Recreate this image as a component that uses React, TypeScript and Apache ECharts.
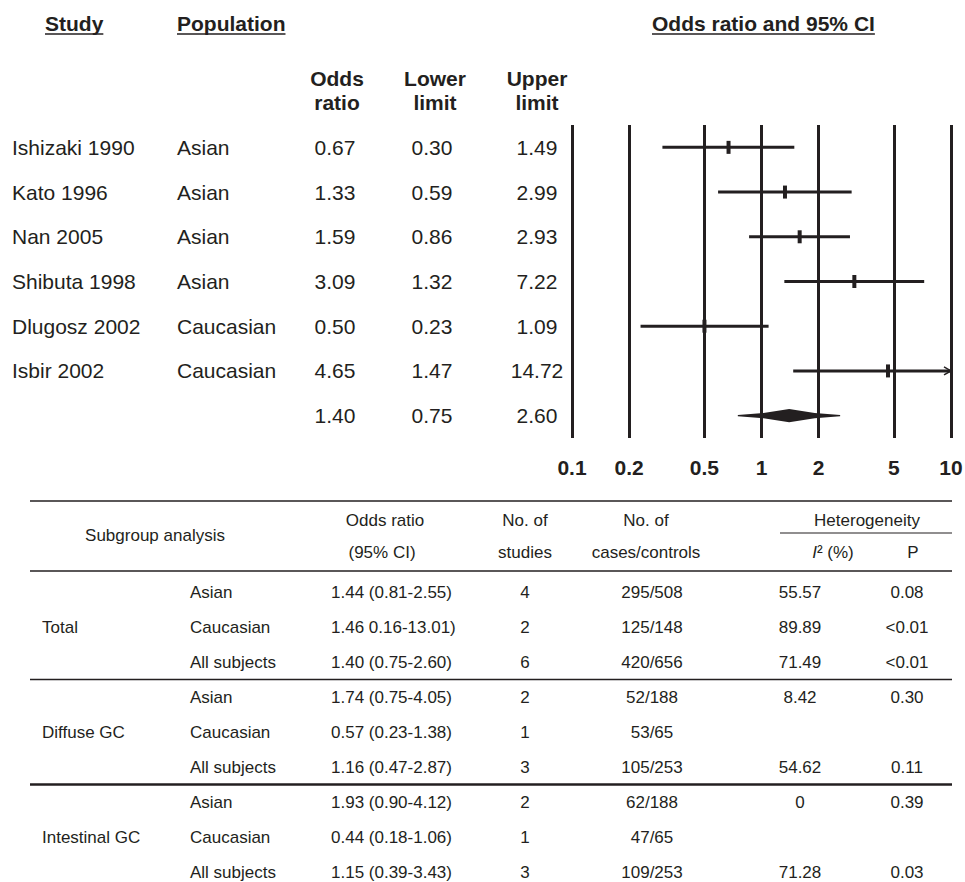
import React, { useEffect, useRef } from "react";
import * as echarts from "echarts";

// ---------- Forest plot data ----------
const studies = ["Ishizaki 1990", "Kato 1996", "Nan 2005", "Shibuta 1998", "Dlugosz 2002", "Isbir 2002", ""];
const populations = ["Asian", "Asian", "Asian", "Asian", "Caucasian", "Caucasian", ""];
const oddsRatios = [0.67, 1.33, 1.59, 3.09, 0.5, 4.65, 1.4];
const lowerLimits = [0.3, 0.59, 0.86, 1.32, 0.23, 1.47, 0.75];
const upperLimits = [1.49, 2.99, 2.93, 7.22, 1.09, 14.72, 2.6];
const pooledIndex = 6;
const axisTicks = [0.1, 0.2, 0.5, 1, 2, 5, 10];

// ---------- Subgroup table data ----------
const groupLabels = ["", "Total", "", "", "Diffuse GC", "", "", "Intestinal GC", ""];
const subgroups = ["Asian", "Caucasian", "All subjects", "Asian", "Caucasian", "All subjects", "Asian", "Caucasian", "All subjects"];
const orCI = ["1.44 (0.81-2.55)", "1.46 0.16-13.01)", "1.40 (0.75-2.60)", "1.74 (0.75-4.05)", "0.57 (0.23-1.38)", "1.16 (0.47-2.87)", "1.93 (0.90-4.12)", "0.44 (0.18-1.06)", "1.15 (0.39-3.43)"];
const nStudies = ["4", "2", "6", "2", "1", "3", "2", "1", "3"];
const casesControls = ["295/508", "125/148", "420/656", "52/188", "53/65", "105/253", "62/188", "47/65", "109/253"];
const i2Values = ["55.57", "89.89", "71.49", "8.42", "", "54.62", "0", "", "71.28"];
const pValues = ["0.08", "<0.01", "<0.01", "0.30", "", "0.11", "0.39", "", "0.03"];

const FONT = '"Liberation Sans", Arial, Helvetica, sans-serif';
const INK = "#231f20";
const X_MAX = 10;

// layout
const FOREST_LEFT = 572;
const FOREST_RIGHT = 14;
const FOREST_TOP = 125;
const FOREST_BOTTOM = 444;
const TABLE_LEFT = 30;
const TABLE_RIGHT = 13;
const TABLE_TOP = 574.5;
const TABLE_BAND = 35;

export default function App() {
  const ref = useRef<HTMLDivElement>(null);

  useEffect(() => {
    const chart = echarts.init(ref.current as HTMLDivElement, null, { renderer: "svg" });
    const ctx = document.createElement("canvas").getContext("2d") as CanvasRenderingContext2D;
    const measure = (t: string, font: string) => {
      ctx.font = font;
      return ctx.measureText(t).width;
    };

    const forestCol = (data: string[], x: number, align: string) => ({
      gridIndex: 0,
      type: "category",
      position: "left",
      offset: 0,
      inverse: true,
      data,
      axisLine: { show: false },
      axisTick: { show: false },
      splitLine: { show: false },
      axisLabel: { interval: 0, margin: FOREST_LEFT - x, align, fontSize: 21, color: INK, fontFamily: FONT },
    });
    const tableCol = (data: string[], x: number, align: string) => ({
      gridIndex: 1,
      type: "category",
      position: "left",
      offset: 0,
      inverse: true,
      data,
      axisLine: { show: false },
      axisTick: { show: false },
      splitLine: { show: false },
      axisLabel: { interval: 0, margin: TABLE_LEFT - x, align, fontSize: 17, color: INK, fontFamily: FONT },
    });

    const studyRows = studies.map((_, i) => i).filter((i) => i !== pooledIndex);

    const graphics: any[] = [];
    const text = (t: string, x: number, y: number, size: number, bold: boolean, align = "left", extra: any = {}) =>
      graphics.push({
        type: "text",
        x,
        y,
        silent: true,
        style: {
          text: t,
          fill: INK,
          fontSize: size,
          fontWeight: bold ? "bold" : "normal",
          fontFamily: FONT,
          align,
          verticalAlign: "middle",
          ...extra,
        },
      });
    const rule = (x1: number, y1: number, x2: number, y2: number, w: number) =>
      graphics.push({ type: "line", silent: true, shape: { x1, y1, x2, y2 }, style: { stroke: INK, lineWidth: w } });

    // headers with underline
    const headFont = `bold 21px ${FONT}`;
    [
      ["Study", 45],
      ["Population", 177],
      ["Odds ratio and 95% CI", 652],
    ].forEach(([t, x]) => {
      text(t as string, x as number, 23, 21, true);
      rule(x as number, 34, (x as number) + measure(t as string, headFont), 34, 1.5);
    });
    text("Odds\nratio", 337, 90, 21, true, "center", { lineHeight: 24 });
    text("Lower\nlimit", 435, 90, 21, true, "center", { lineHeight: 24 });
    text("Upper\nlimit", 537, 90, 21, true, "center", { lineHeight: 24 });

    // table header
    const tableRight = 965 - TABLE_RIGHT;
    rule(TABLE_LEFT, 501, tableRight, 501, 1.5);
    rule(780, 533, tableRight, 533, 1.2);
    rule(TABLE_LEFT, 571, tableRight, 571, 1.5);
    rule(TABLE_LEFT, TABLE_TOP + 3 * TABLE_BAND, tableRight, TABLE_TOP + 3 * TABLE_BAND, 1.5);
    rule(TABLE_LEFT, TABLE_TOP + 6 * TABLE_BAND, tableRight, TABLE_TOP + 6 * TABLE_BAND, 2.5);
    text("Subgroup analysis", 155, 535, 17, false, "center");
    text("Odds ratio", 385, 520, 17, false, "center");
    text("(95% CI)", 382, 552, 17, false, "center");
    text("No. of", 525, 520, 17, false, "center");
    text("studies", 525, 552, 17, false, "center");
    text("No. of", 646, 520, 17, false, "center");
    text("cases/controls", 646, 552, 17, false, "center");
    text("Heterogeneity", 867, 520, 17, false, "center");
    text("{i|I}² (%)", 833, 552, 17, false, "center", { rich: { i: { fontStyle: "italic", fontSize: 17, fontFamily: FONT, fill: INK } } });
    text("P", 913, 552, 17, false, "center");

    const option: any = {
      animation: false,
      backgroundColor: "#ffffff",
      textStyle: { fontFamily: FONT },
      grid: [
        { left: FOREST_LEFT, right: FOREST_RIGHT, top: FOREST_TOP, bottom: FOREST_BOTTOM, containLabel: false, outerBoundsMode: "none" },
        { left: TABLE_LEFT, right: TABLE_RIGHT, top: TABLE_TOP, bottom: 882 - TABLE_TOP - 9 * TABLE_BAND, containLabel: false, outerBoundsMode: "none" },
      ],
      xAxis: [
        {
          gridIndex: 0,
          type: "log",
          logBase: 10,
          min: 0.1,
          max: X_MAX,
          axisLine: { show: false },
          axisTick: { show: false },
          axisLabel: { show: false },
          splitLine: { show: false },
        },
        { gridIndex: 1, type: "value", min: 0, max: 1, show: false },
      ],
      yAxis: [
        forestCol(studies, 12, "left"),
        forestCol(populations, 177, "left"),
        forestCol(oddsRatios.map((v) => v.toFixed(2)), 335, "center"),
        forestCol(lowerLimits.map((v) => v.toFixed(2)), 432, "center"),
        forestCol(upperLimits.map((v) => v.toFixed(2)), 537, "center"),
        tableCol(groupLabels, 42, "left"),
        tableCol(subgroups, 190, "left"),
        tableCol(orCI, 331, "left"),
        tableCol(nStudies, 525, "center"),
        tableCol(casesControls, 652, "center"),
        tableCol(i2Values, 800, "center"),
        tableCol(pValues, 907, "center"),
      ],
      series: [
        {
          type: "custom",
          name: "CI",
          xAxisIndex: 0,
          yAxisIndex: 0,
          silent: true,
          z: 3,
          data: studyRows.map((i) => [lowerLimits[i], i, upperLimits[i]]),
          encode: { x: [0, 2], y: 1 },
          renderItem: (_p: any, api: any) => {
            const row = api.value(1);
            const lo = api.value(0);
            const hi = api.value(2);
            const a = api.coord([lo, row]);
            const b = api.coord([Math.min(hi, X_MAX), row]);
            const children: any[] = [
              { type: "line", shape: { x1: a[0], y1: a[1], x2: b[0], y2: b[1] }, style: { stroke: INK, lineWidth: 3 } },
            ];
            if (hi > X_MAX) {
              children.push({
                type: "polyline",
                shape: { points: [[b[0] - 7, b[1] - 4], [b[0], b[1]], [b[0] - 7, b[1] + 4]] },
                style: { stroke: INK, lineWidth: 1.5, fill: "none" },
              });
            }
            return { type: "group", children };
          },
        },
        {
          type: "scatter",
          name: "OR",
          xAxisIndex: 0,
          yAxisIndex: 0,
          silent: true,
          z: 4,
          symbol: "rect",
          symbolSize: [4, 13],
          itemStyle: { color: INK, opacity: 1 },
          data: studyRows.map((i) => [oddsRatios[i], i]),
          markLine: {
            silent: true,
            symbol: ["none", "none"],
            animation: false,
            lineStyle: { color: INK, width: 3, type: "solid" },
            emphasis: { disabled: true },
            label: {
              show: true,
              position: "end",
              distance: 19,
              formatter: "{b}",
              fontSize: 21,
              fontWeight: "bold",
              color: INK,
              fontFamily: FONT,
            },
            data: axisTicks.map((v) => ({ xAxis: v, name: String(v) })),
          },
        },
        {
          type: "custom",
          name: "Pooled",
          xAxisIndex: 0,
          yAxisIndex: 0,
          silent: true,
          z: 4,
          data: [[lowerLimits[pooledIndex], pooledIndex, upperLimits[pooledIndex], oddsRatios[pooledIndex]]],
          encode: { x: [0, 2, 3], y: 1 },
          renderItem: (_p: any, api: any) => {
            const row = api.value(1);
            const l = api.coord([api.value(0), row]);
            const r = api.coord([api.value(2), row]);
            const c = api.coord([api.value(3), row]);
            const y = c[1];
            const pts = [
              [l[0], y - 0.6],
              [(l[0] + c[0]) / 2, y - 2.6],
              [c[0], y - 6.7],
              [(c[0] + r[0]) / 2, y - 2.6],
              [r[0], y - 0.6],
              [r[0], y + 0.6],
              [(c[0] + r[0]) / 2, y + 2.6],
              [c[0], y + 6.7],
              [(l[0] + c[0]) / 2, y + 2.6],
              [l[0], y + 0.6],
            ];
            return { type: "polygon", shape: { points: pts }, style: { fill: INK, stroke: "none" } };
          },
        },
      ],
      graphic: graphics,
    };

    chart.setOption(option);
    return () => chart.dispose();
  }, []);

  return (
    <div
      ref={ref}
      style={{ position: "fixed", left: 0, top: 0, width: 965, height: 882, background: "#ffffff" }}
    />
  );
}
